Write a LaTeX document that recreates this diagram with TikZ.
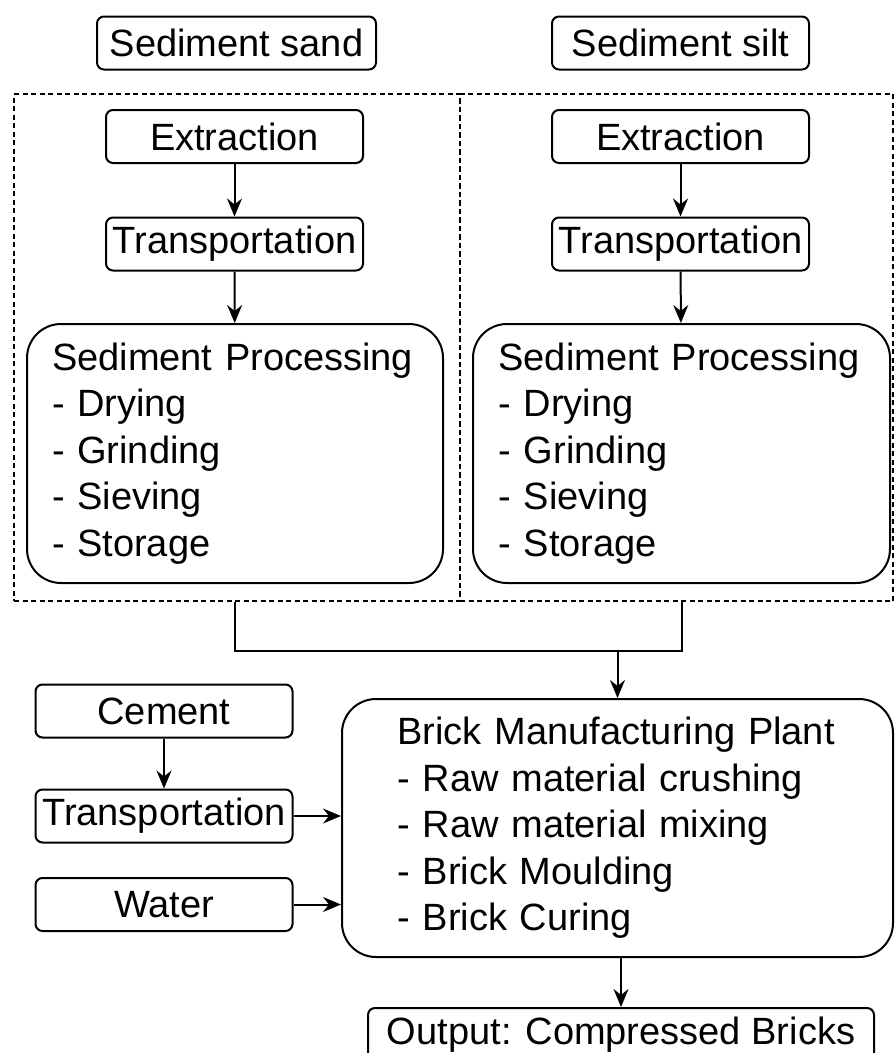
\documentclass[tikz,border=0pt]{standalone}
\usepackage{fontspec}
\setmainfont{Liberation Sans}
\usetikzlibrary{arrows.meta}
\begin{document}
\begin{tikzpicture} [
                x=1pt, y=-1pt,
                every node/.style={font=\fontsize{38}{46.5}\selectfont},
                box/.style={draw,line width=2pt,rounded corners=7pt,inner sep=0pt,minimum width=257pt,minimum height=53pt},
                big box/.style={draw,line width=2pt,rounded corners=34pt,inner sep=0pt,minimum height=259pt,align=left},
                group/.style={draw,line width=2pt,dash pattern=on 5pt off 3.5pt,inner sep=0pt,minimum height=507pt},
                link/.style={draw,line width=2pt,-{Stealth[length=18pt,width=15pt,inset=6pt]}},
            ]
            \useasboundingbox (0,0) rectangle (895,1053);
            % dashed groups first
            \node[group,minimum width=446pt] (sandgrp) at (237,347.5) {};
            \node[group,minimum width=433pt] (siltgrp) at (676.5,347.5) {};
            % the small boxes
            \node[box,minimum width=279pt] (sandsrc) at (236.5,43) {Sediment sand};
            \foreach \pos/\name/\txt in {
                    {(680.5,43)/siltsrc/Sediment silt},
                    {(234.5,136.5)/sandext/Extraction}, {(680.5,136.5)/siltext/Extraction},
                    {(234.5,244)/sandtrans/Transportation}, {(680.5,244)/silttrans/Transportation},
                    {(164,711)/cement/Cement}, {(164,816)/cemtrans/Transportation},
                    {(164,904.5)/water/Water}}
                \node[box] (\name) at \pos {\txt};
            % processing boxes
            \node[big box,minimum width=416pt,text width=366pt] (sandproc) at (235,453.5)
                {Sediment Processing\\- Drying\\- Grinding\\- Sieving\\- Storage};
            \node[big box,minimum width=417pt,text width=366pt] (siltproc) at (681.5,453.5)
                {Sediment Processing\\- Drying\\- Grinding\\- Sieving\\- Storage};
            \node[big box,minimum width=551pt,minimum height=258pt,text width=440pt] (plant) at (617.5,828)
                {Brick Manufacturing Plant\\- Raw material crushing\\- Raw material mixing\\- Brick Moulding\\- Brick Curing};
            \node[box,minimum width=506pt,minimum height=54pt] (output) at (621,1035) {Output: Compressed Bricks};
            % connect the boxes
            \foreach \source/ \dest in {
                    sandext/sandtrans, sandtrans/sandproc, siltext/silttrans, silttrans/siltproc, cement/cemtrans}
                \path[link] (\source) -- (\dest);
            \path[link] (cemtrans.east) -- (plant.west |- cemtrans);
            \path[link] (water.east) -- (plant.west |- water);
            % join both groups
            \coordinate (join) at (plant.north |- 0,651);
            \draw[line width=2pt] (sandproc.south |- sandgrp.south) |- (join) -| (siltproc.south |- siltgrp.south);
            \path[link] (join) -- (plant.north);
            \path[link] (output.north |- plant.south) -- (output.north);
        \end{tikzpicture}
\end{document}
